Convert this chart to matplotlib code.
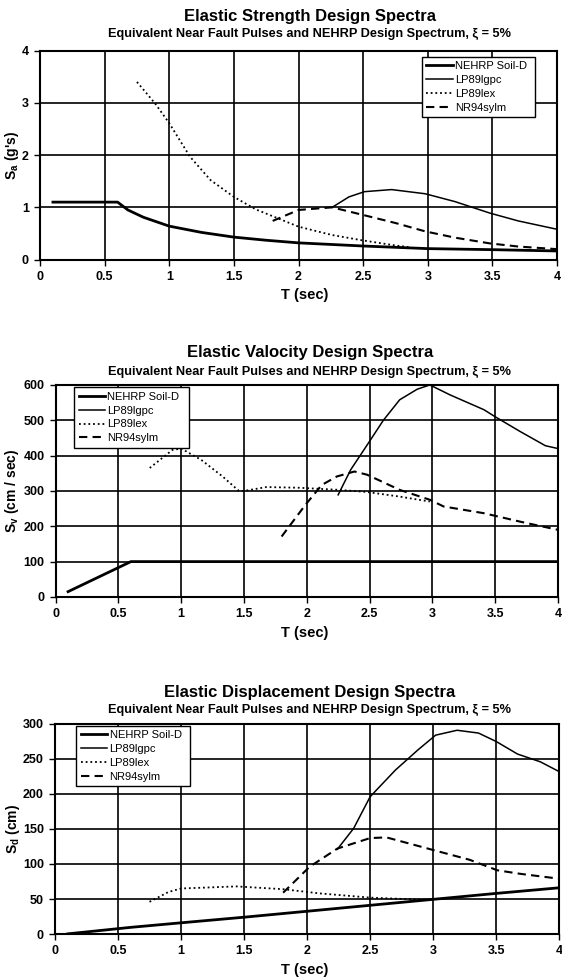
import matplotlib
matplotlib.use("Agg")
import matplotlib.pyplot as plt

plt.rcParams['font.family'] = ['Liberation Sans', 'DejaVu Sans']
plt.rcParams['mathtext.fontset'] = 'custom'
plt.rcParams['mathtext.rm'] = 'Liberation Sans'
plt.rcParams['mathtext.bf'] = 'Liberation Sans:bold'

# ---- data ----
series_names = ["NEHRP Soil-D", "LP89lgpc", "LP89lex", "NR94sylm"]
x_ticks = [0, 0.5, 1, 1.5, 2, 2.5, 3, 3.5, 4]
x_ticklabels = ["0", "0.5", "1", "1.5", "2", "2.5", "3", "3.5", "4"]

# strength (Sa, g's)
sa_nehrp_t = [0.1, 0.6, 0.68, 0.8, 1.0, 1.25, 1.5, 1.75, 2.0, 2.5, 3.0, 3.5, 4.0]
sa_nehrp = [1.1, 1.1, 0.95, 0.81, 0.64, 0.52, 0.43, 0.37, 0.32, 0.26, 0.21, 0.19, 0.165]
sa_lgpc_t = [2.26, 2.39, 2.51, 2.72, 2.98, 3.21, 3.48, 3.70, 4.0]
sa_lgpc = [1.0, 1.2, 1.3, 1.34, 1.26, 1.11, 0.89, 0.74, 0.58]
sa_lex_t = [0.75, 0.89, 1.0, 1.16, 1.32, 1.5, 1.67, 1.8, 2.0, 2.26, 2.49, 2.75, 2.85]
sa_lex = [3.4, 2.99, 2.61, 1.97, 1.52, 1.2, 0.96, 0.83, 0.63, 0.47, 0.37, 0.27, 0.24]
sa_sylm_t = [1.8, 2.0, 2.26, 2.49, 2.75, 2.98, 3.21, 3.48, 3.70, 4.0]
sa_sylm = [0.74, 0.95, 1.0, 0.86, 0.7, 0.54, 0.42, 0.31, 0.25, 0.2]

# velocity (Sv, cm/sec)
sv_nehrp_t = [0.1, 0.6, 4.0]
sv_nehrp = [15, 100, 100]
sv_lgpc_t = [2.25, 2.35, 2.49, 2.61, 2.74, 2.88, 2.98, 3.14, 3.41, 3.5, 3.7, 3.9, 4.0]
sv_lgpc = [289, 360, 435, 500, 558, 588, 600, 572, 530, 510, 468, 428, 420]
sv_lex_t = [0.75, 0.93, 1.0, 1.16, 1.33, 1.46, 1.5, 1.68, 1.94, 2.26, 2.48, 2.74, 2.98]
sv_lex = [365, 416, 420, 388, 341, 300, 300, 311, 309, 303, 297, 284, 270]
sv_sylm_t = [1.8, 1.99, 2.12, 2.24, 2.38, 2.48, 2.74, 2.98, 3.09, 3.41, 3.7, 4.0]
sv_sylm = [171, 261, 317, 341, 355, 346, 303, 275, 256, 237, 213, 190]

# displacement (Sd, cm)
sd_nehrp_t = [0.1, 0.6, 1.0, 1.5, 2.0, 2.5, 3.0, 3.5, 4.0]
sd_nehrp = [0.2, 9.5, 16, 24, 32.5, 41, 49.5, 58, 66]
sd_lgpc_t = [2.24, 2.37, 2.5, 2.7, 2.88, 3.02, 3.19, 3.36, 3.5, 3.67, 3.85, 4.0]
sd_lgpc = [121, 151, 196, 234, 263, 284, 291, 287, 275, 257, 246, 232]
sd_lex_t = [0.75, 0.9, 1.0, 1.44, 1.81, 2.1, 2.5, 2.84, 2.95]
sd_lex = [46, 60, 65, 68, 64, 58, 52, 49.5, 49]
sd_sylm_t = [1.81, 2.02, 2.24, 2.5, 2.63, 3.0, 3.29, 3.51, 3.69, 4.0]
sd_sylm = [59, 96, 122, 137, 138, 120, 106, 91, 86, 79]

panels = [
    dict(title="Elastic Strength Design Spectra", ylabel="S$_\\mathbf{a}$ (g's)",
         yticks=[0, 1, 2, 3, 4], ylim=(0, 4),
         data=[(sa_nehrp_t, sa_nehrp), (sa_lgpc_t, sa_lgpc), (sa_lex_t, sa_lex), (sa_sylm_t, sa_sylm)],
         rect=[0.0712, 0.7343, 0.920, 0.2139], legend=(0.738, 0.673, 0.219, 0.306),
         ty=17, sy=34, xly=295, yl_x=-0.036),
    dict(title="Elastic Valocity Design Spectra", ylabel="S$_\\mathbf{v}$ (cm / sec)",
         yticks=[0, 100, 200, 300, 400, 500, 600], ylim=(0, 600),
         data=[(sv_nehrp_t, sv_nehrp), (sv_lgpc_t, sv_lgpc), (sv_lex_t, sv_lex), (sv_sylm_t, sv_sylm)],
         rect=[0.0988, 0.389, 0.894, 0.217], legend=(0.037, 0.693, 0.229, 0.307),
         ty=353, sy=372, xly=633, yl_x=-0.068),
    dict(title="Elastic Displacement Design Spectra", ylabel="S$_\\mathbf{d}$ (cm)",
         yticks=[0, 50, 100, 150, 200, 250, 300], ylim=(0, 300),
         data=[(sd_nehrp_t, sd_nehrp), (sd_lgpc_t, sd_lgpc), (sd_lex_t, sd_lex), (sd_sylm_t, sd_sylm)],
         rect=[0.0979, 0.044, 0.897, 0.215], legend=(0.042, 0.694, 0.226, 0.306),
         ty=692, sy=710, xly=970, yl_x=-0.066),
]
styles = [dict(lw=2.0, ls='-'), dict(lw=1.1, ls='-'), dict(lw=1.3, ls=(0, (1, 1.6))),
          dict(lw=1.5, ls=(0, (4, 2.5)))]

W, H = 562, 977
fig = plt.figure(figsize=(W / 100, H / 100), dpi=100)
for p in panels:
    ax = fig.add_axes(p["rect"])
    for (t, v), name, st in zip(p["data"], series_names, styles):
        ax.plot(t, v, color='black', label=name, zorder=3, **st)
    ax.set_xlim(0, 4); ax.set_ylim(*p["ylim"])
    ax.set_xticks(x_ticks); ax.set_xticklabels(x_ticklabels)
    ax.set_yticks(p["yticks"])
    ax.grid(True, color='black', lw=1.2, zorder=1)
    ax.set_axisbelow(True)
    for s in ax.spines.values():
        s.set_linewidth(1.5)
    ax.tick_params(labelsize=9, length=4, width=1, pad=4)
    for lab in ax.get_xticklabels() + ax.get_yticklabels():
        lab.set_fontweight('bold')
    ax.set_ylabel(p["ylabel"], fontsize=10, fontweight='bold')
    ax.yaxis.set_label_coords(p["yl_x"], 0.5)
    fig.text(305 / W, 1 - p["xly"] / H, "T (sec)", fontsize=10.5, fontweight='bold', ha='center', va='center')
    fig.text(310 / W, 1 - p["ty"] / H, p["title"], fontsize=12, fontweight='bold', ha='center', va='center')
    fig.text(310 / W, 1 - p["sy"] / H,
             "Equivalent Near Fault Pulses and NEHRP Design Spectrum, \u03be = 5%",
             fontsize=9.2, fontweight='bold', ha='center', va='center')
    leg = ax.legend(loc='center', bbox_to_anchor=p["legend"], mode='expand', fontsize=8,
                    handlelength=2.4, handletextpad=0.2, fancybox=False, framealpha=1,
                    edgecolor='black', borderaxespad=0, labelspacing=0.35, borderpad=0.4)
    leg.get_frame().set_linewidth(1.0)
    leg.set_zorder(5)

fig.savefig("out.png", dpi=100)
